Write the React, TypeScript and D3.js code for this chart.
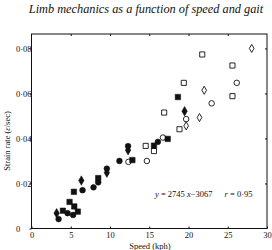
import React, { useEffect, useRef } from "react";
import * as d3 from "d3";

// speed (kph), strain rate (e/sec)
const filledCircles: [number, number][] = [
  [3.45, 0.0042], [4.6, 0.0068], [5.3, 0.006], [6.5, 0.017], [7.9, 0.0183],
  [8.5, 0.0205], [9.6, 0.0266], [11.2, 0.03], [12.3, 0.0366], [16.1, 0.0385],
];
const filledSquares: [number, number][] = [
  [4.0, 0.0079], [4.85, 0.0118], [5.45, 0.0098], [5.9, 0.0075], [5.4, 0.0163],
  [8.5, 0.0224], [12.85, 0.0304], [15.6, 0.0368], [17.35, 0.0398], [18.65, 0.0584],
];
const filledDiamonds: [number, number][] = [
  [3.2, 0.0068], [6.35, 0.0213], [9.6, 0.0248], [12.3, 0.0348], [19.5, 0.0521],
];
const openCircles: [number, number][] = [
  [12.35, 0.0296], [14.7, 0.03], [16.75, 0.0404], [19.7, 0.0486], [22.95, 0.0556], [26.15, 0.0647],
];
const openSquares: [number, number][] = [
  [14.55, 0.0367], [15.6, 0.0344], [16.9, 0.0515], [18.85, 0.0441],
  [19.4, 0.0647], [21.75, 0.0773], [25.6, 0.0724], [25.6, 0.0588],
];
const openDiamonds: [number, number][] = [
  [19.7, 0.0456], [21.4, 0.0493], [22.0, 0.0614], [28.05, 0.08],
];

const xTicks = [0, 5, 10, 15, 20, 25, 30];
const yTicks = [0, 0.02, 0.04, 0.06, 0.08];
const yTickLabels = ["0", "0·02", "0·04", "0·06", "0·08"];

const title = "Limb mechanics as a function of speed and gait";
const xTitle = "Speed (kph)";

function App() {
  const svgRef = useRef<SVGSVGElement>(null);

  useEffect(() => {
    const width = 272;
    const height = 250;
    const left = 31.5, right = 267, top = 34, bottom = 228.5;
    const ink = "#111";
    const serif = "Liberation Serif, serif";

    const svg = d3.select(svgRef.current).attr("width", width).attr("height", height);
    svg.selectAll("*").remove();

    const x = d3.scaleLinear().domain([0, 30]).range([left, right]);
    const y = d3.scaleLinear().domain([0, 0.0864]).range([bottom, top]);

    svg.append("rect").attr("width", width).attr("height", height).attr("fill", "#fff");

    // title
    svg.append("text")
      .attr("x", 146).attr("y", 13)
      .attr("text-anchor", "middle")
      .attr("font-family", serif)
      .attr("font-style", "italic")
      .attr("font-weight", 500)
      .attr("font-size", 12.3)
      .attr("fill", ink)
      .text(title);

    // frame
    svg.append("rect")
      .attr("x", left).attr("y", top)
      .attr("width", right - left).attr("height", bottom - top)
      .attr("fill", "none").attr("stroke", ink).attr("stroke-width", 1);

    // left axis
    const yAxis = svg.append("g")
      .attr("transform", `translate(${left},0)`)
      .call(d3.axisLeft(y).tickValues(yTicks).tickSize(2)
        .tickFormat((_, i) => yTickLabels[i]));
    yAxis.select(".domain").remove();
    yAxis.selectAll("text")
      .attr("text-anchor", "start")
      .attr("x", 16 - left)
      .attr("font-family", serif)
      .attr("font-size", 8.5)
      .attr("fill", ink);
    yAxis.selectAll("line").attr("stroke", ink);

    // bottom axis
    const xAxis = svg.append("g")
      .attr("transform", `translate(0,${bottom})`)
      .call(d3.axisBottom(x).tickValues(xTicks).tickSize(-2).tickPadding(3)
        .tickFormat(d3.format("d")));
    xAxis.select(".domain").remove();
    xAxis.selectAll("text")
      .attr("font-family", serif)
      .attr("font-size", 8.5)
      .attr("fill", ink);
    xAxis.selectAll("line").attr("stroke", ink);

    // top and right ticks
    const topAxis = svg.append("g")
      .attr("transform", `translate(0,${top})`)
      .call(d3.axisTop(x).tickValues(xTicks.slice(1, -1)).tickSize(-2).tickFormat(() => ""));
    topAxis.select(".domain").remove();
    topAxis.selectAll("line").attr("stroke", ink);

    const rightAxis = svg.append("g")
      .attr("transform", `translate(${right},0)`)
      .call(d3.axisRight(y).tickValues(yTicks.slice(1)).tickSize(-2).tickFormat(() => ""));
    rightAxis.select(".domain").remove();
    rightAxis.selectAll("line").attr("stroke", ink);

    // axis titles
    svg.append("text")
      .attr("x", 150).attr("y", 248.5)
      .attr("text-anchor", "middle")
      .attr("font-family", serif)
      .attr("font-size", 8.5)
      .attr("fill", ink)
      .text(xTitle);

    const yTitle = svg.append("text")
      .attr("transform", "translate(10,141) rotate(-90)")
      .attr("text-anchor", "middle")
      .attr("font-family", serif)
      .attr("font-size", 8.5)
      .attr("fill", ink);
    yTitle.append("tspan").text("Strain rate (");
    yTitle.append("tspan").attr("font-style", "italic").text("ε");
    yTitle.append("tspan").text("/sec)");

    // regression equation
    const eq = svg.append("text")
      .attr("x", 155).attr("y", 197)
      .attr("font-family", serif)
      .attr("font-size", 8.5)
      .attr("fill", ink);
    eq.append("tspan").attr("font-style", "italic").text("y");
    eq.append("tspan").text(" = 2745 ");
    eq.append("tspan").attr("font-style", "italic").text("x");
    eq.append("tspan").text("−3067");
    eq.append("tspan").attr("dx", 12).attr("font-style", "italic").text("r");
    eq.append("tspan").text(" = 0·95");

    // markers
    const groups: { data: [number, number][]; type: d3.SymbolType; size: number; filled: boolean }[] = [
      { data: openSquares, type: d3.symbolSquare, size: 26, filled: false },
      { data: openCircles, type: d3.symbolCircle, size: 24, filled: false },
      { data: openDiamonds, type: d3.symbolDiamond, size: 19, filled: false },
      { data: filledSquares, type: d3.symbolSquare, size: 30, filled: true },
      { data: filledCircles, type: d3.symbolCircle, size: 26, filled: true },
      { data: filledDiamonds, type: d3.symbolDiamond, size: 26, filled: true },
    ];

    groups.forEach((g) => {
      svg.append("g")
        .selectAll("path")
        .data(g.data)
        .join("path")
        .attr("transform", (d) => `translate(${x(d[0])},${y(d[1])})`)
        .attr("d", d3.symbol().type(g.type).size(g.size)())
        .attr("fill", g.filled ? ink : "#fff")
        .attr("stroke", ink)
        .attr("stroke-width", g.filled ? 0.5 : 0.9);
    });
  }, []);

  return <svg ref={svgRef} style={{ position: "absolute", left: 0, top: 0 }}></svg>;
}

export default App;
